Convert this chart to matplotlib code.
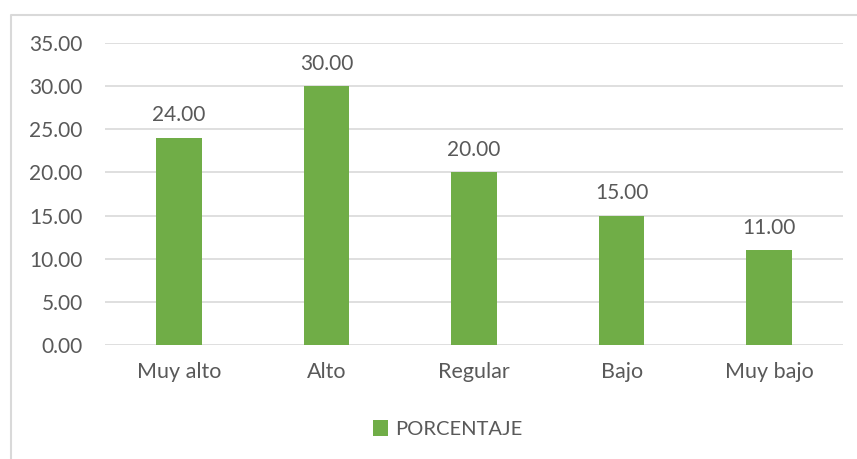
import matplotlib
matplotlib.use("Agg")
import matplotlib.pyplot as plt
from matplotlib.lines import Line2D
from matplotlib.patches import Patch

categories = ["Muy alto", "Alto", "Regular", "Bajo", "Muy bajo"]
porcentaje = [24.00, 30.00, 20.00, 15.00, 11.00]
series_name = "PORCENTAJE"
y_ticks = [0, 5, 10, 15, 20, 25, 30, 35]

GREEN = "#70AD47"
TEXT = "#595959"
GRID = "#D9D9D9"

plt.rcParams["font.family"] = ["Lato", "DejaVu Sans"]

W, H = 857, 459
fig = plt.figure(figsize=(W / 100, H / 100), dpi=100)
ax = fig.add_axes([105 / W, 1 - 345 / H, (843 - 105) / W, (345 - 43) / H])

x = list(range(len(categories)))
bars = ax.bar(x, porcentaje, width=0.31, color=GREEN, zorder=3)

ax.set_xlim(-0.5, len(categories) - 0.5)
ax.set_ylim(0, 35)
ax.set_yticks(y_ticks)
ax.set_yticklabels([f"{v:.2f}" for v in y_ticks])
ax.set_xticks(x)
ax.set_xticklabels(categories)

ax.yaxis.grid(True, color=GRID, linewidth=1.2, zorder=0)
ax.set_axisbelow(True)
for s in ax.spines.values():
    s.set_visible(False)
ax.tick_params(axis="y", length=0, labelsize=15, colors=TEXT, pad=16)
ax.tick_params(axis="x", length=0, labelsize=15.5, colors=TEXT, pad=12)

for xi, v in zip(x, porcentaje):
    ax.annotate(f"{v:.2f}", (xi, v), xytext=(0, 9), textcoords="offset points",
                ha="center", va="bottom", fontsize=15, color=TEXT)

# legend below the plot area
handle = Patch(facecolor=GREEN, edgecolor="none")
fig.legend([handle], [series_name], loc="center", bbox_to_anchor=(448 / W, 1 - 429 / H),
           frameon=False, fontsize=14.5, labelcolor=TEXT, handlelength=0.75,
           handleheight=0.8, handletextpad=0.35)

# chart frame
fx = 11 / W
fy = 1 - 15 / H
fig.add_artist(Line2D([fx, fx, 1.0], [0, fy, fy], transform=fig.transFigure,
                      color=GRID, linewidth=1.5))

fig.savefig("out.png", dpi=100, facecolor="white")
